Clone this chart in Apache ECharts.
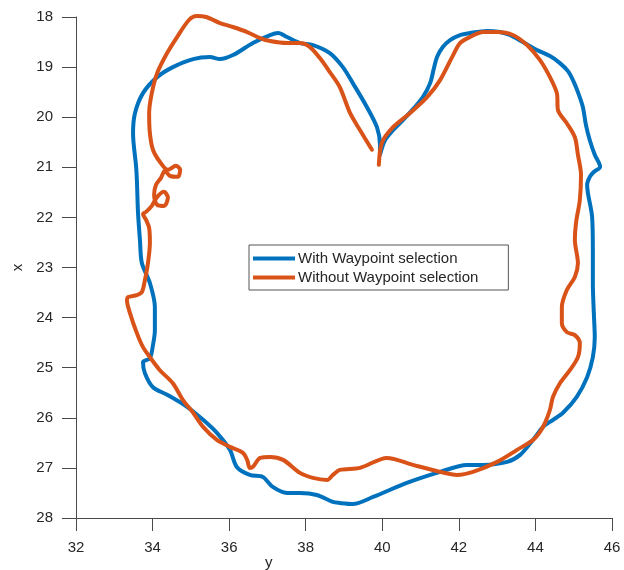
<!DOCTYPE html>
<html>
<head>
<meta charset="utf-8">
<script src="https://cdn.jsdelivr.net/npm/echarts@6/dist/echarts.min.js"></script>
<style>
html,body{margin:0;padding:0;background:#fff;}
#chart{width:624px;height:570px;}
</style>
</head>
<body>
<div id="chart"></div>
<script>
// Axis ticks
const xTicks = [32, 34, 36, 38, 40, 42, 44, 46];
const yTicks = [18, 19, 20, 21, 22, 23, 24, 25, 26, 27, 28];

// Series names
const seriesNames = ['With Waypoint selection', 'Without Waypoint selection'];

// With Waypoint selection: [y, x]
const withWaypoint = [
[39.94,20.75],[40.07,20.46],[40.28,20.26],[40.54,20.06],[40.85,19.80],[41.06,19.60],[41.25,19.32],[41.35,19.02],[41.43,18.80],[41.58,18.60],[41.77,18.46],[42.03,18.36],[42.29,18.32],[42.73,18.28],[43.07,18.30],[43.33,18.36],[43.67,18.50],[44.04,18.66],[44.38,18.78],[44.64,18.92],[44.85,19.08],[44.98,19.26],[45.11,19.50],[45.24,19.80],[45.32,20.16],[45.42,20.46],[45.55,20.75],[45.69,20.99],[45.53,21.09],[45.42,21.19],[45.35,21.35],[45.37,21.51],[45.48,21.99],[45.50,22.65],[45.50,23.31],[45.53,23.99],[45.55,24.39],[45.50,24.79],[45.35,25.19],[45.08,25.58],[44.72,25.90],[44.46,26.04],[44.20,26.18],[43.94,26.44],[43.60,26.74],[43.26,26.88],[42.63,26.94],[42.21,26.94],[41.51,27.08],[40.64,27.30],[39.76,27.58],[39.23,27.72],[38.89,27.70],[38.71,27.68],[38.29,27.54],[37.85,27.50],[37.51,27.50],[37.14,27.38],[36.88,27.18],[36.54,27.14],[36.20,26.98],[36.02,26.64],[35.68,26.30],[35.32,26.04],[34.90,25.78],[34.38,25.54],[34.01,25.39],[33.80,25.11],[33.75,24.89],[33.93,24.81],[34.01,24.55],[34.06,24.25],[34.06,23.79],[33.93,23.31],[33.72,22.91],[33.67,22.45],[33.62,21.91],[33.59,21.25],[33.57,20.99],[33.49,20.32],[33.54,19.92],[33.75,19.52],[34.12,19.20],[34.53,19.00],[35.06,18.84],[35.50,18.80],[35.76,18.84],[36.10,18.76],[36.62,18.52],[37.07,18.36],[37.28,18.32],[37.51,18.40],[37.85,18.52],[38.19,18.56],[38.63,18.72],[38.97,19.00],[39.23,19.32],[39.60,19.80],[39.86,20.20],[39.94,20.55],[39.94,20.75]
];

// Without Waypoint selection: [y, x]
const withoutWaypoint = [
[39.73,20.65],[39.42,20.26],[39.16,19.92],[38.89,19.40],[38.63,19.10],[38.37,18.82],[38.11,18.60],[37.85,18.52],[37.51,18.52],[37.07,18.48],[36.81,18.42],[36.47,18.30],[36.10,18.20],[35.76,18.12],[35.40,18.00],[35.15,17.98],[34.95,18.06],[34.64,18.40],[34.38,18.72],[34.12,19.12],[33.98,19.52],[33.91,19.92],[33.93,20.32],[34.01,20.65],[34.19,20.89],[34.40,21.05],[34.61,20.97],[34.72,21.05],[34.66,21.19],[34.45,21.17],[34.32,21.07],[34.22,21.21],[34.09,21.35],[34.04,21.55],[34.12,21.75],[34.30,21.77],[34.40,21.61],[34.30,21.49],[34.12,21.59],[33.98,21.77],[33.83,21.89],[33.75,21.93],[33.83,22.05],[33.91,22.21],[33.93,22.51],[33.88,22.91],[33.80,23.25],[33.72,23.49],[33.59,23.55],[33.36,23.59],[33.33,23.65],[33.41,23.91],[33.59,24.31],[33.75,24.59],[33.93,24.79],[34.19,25.05],[34.53,25.31],[34.79,25.64],[35.06,25.90],[35.32,26.18],[35.68,26.44],[36.02,26.58],[36.36,26.70],[36.47,26.84],[36.54,27.00],[36.62,26.98],[36.81,26.80],[37.07,26.78],[37.41,26.84],[37.85,27.10],[38.19,27.20],[38.56,27.24],[38.71,27.14],[38.89,27.04],[39.42,27.00],[40.12,26.80],[40.80,26.94],[41.51,27.08],[41.95,27.14],[42.37,27.08],[43.00,26.88],[43.52,26.64],[43.94,26.44],[44.12,26.28],[44.25,26.10],[44.38,25.84],[44.46,25.58],[44.64,25.31],[44.90,25.05],[45.11,24.79],[45.16,24.51],[45.03,24.35],[44.82,24.29],[44.69,24.11],[44.69,23.79],[44.82,23.45],[45.03,23.19],[45.11,22.91],[45.03,22.45],[45.06,22.11],[45.16,21.65],[45.19,21.15],[45.11,20.75],[45.03,20.40],[44.82,20.12],[44.59,19.86],[44.56,19.52],[44.38,19.20],[44.12,18.86],[43.78,18.56],[43.41,18.36],[43.00,18.30],[42.63,18.30],[42.29,18.40],[42.03,18.52],[41.85,18.76],[41.51,19.26],[41.17,19.60],[40.72,19.92],[40.28,20.20],[39.99,20.51],[39.91,20.95]
];

const FONT = 'Liberation Sans, Arial, Helvetica, sans-serif';
const TEXT = '#262626';
const AXIS = '#4a4a4a';

const chart = echarts.init(document.getElementById('chart'), null, {renderer: 'canvas'});
chart.setOption({
  animation: false,
  backgroundColor: '#fff',
  grid: {left: 76, right: 12, top: 17, bottom: 52, containLabel: false},
  xAxis: {
    type: 'value',
    min: xTicks[0], max: xTicks[xTicks.length - 1], interval: 2,
    axisLine: {show: true, onZero: false, lineStyle: {color: AXIS, width: 1}},
    axisTick: {show: true, inside: false, length: 13, lineStyle: {color: AXIS, width: 1}},
    axisLabel: {color: TEXT, fontSize: 15, fontFamily: FONT, margin: 22},
    splitLine: {show: false}
  },
  yAxis: {
    type: 'value',
    inverse: true,
    min: yTicks[0], max: yTicks[yTicks.length - 1], interval: 1,
    name: 'x', nameLocation: 'middle', nameGap: 51, nameRotate: 90,
    nameTextStyle: {color: TEXT, fontSize: 15, fontFamily: FONT},
    axisLine: {show: true, onZero: false, lineStyle: {color: AXIS, width: 1}},
    axisTick: {show: true, inside: false, length: 14, lineStyle: {color: AXIS, width: 1}},
    axisLabel: {color: TEXT, fontSize: 15, fontFamily: FONT, margin: 23},
    splitLine: {show: false}
  },
  graphic: [{
    type: 'text', left: 265, top: 555,
    style: {text: 'y', fill: TEXT, font: '15px ' + FONT}
  }],
  legend: {
    orient: 'vertical',
    left: 249, top: 245,
    padding: [6, 30, 5, 4],
    itemGap: 4,
    itemWidth: 42, itemHeight: 4,
    icon: 'rect',
    backgroundColor: '#fff',
    borderColor: '#555', borderWidth: 1,
    textStyle: {color: TEXT, fontSize: 15, fontFamily: FONT, padding: [0, 0, 0, -2]},
    data: seriesNames
  },
  series: [
    {
      name: seriesNames[0], type: 'line', data: withWaypoint,
      showSymbol: false, symbol: 'none', smooth: 0.3, clip: false,
      lineStyle: {color: '#0072BD', width: 4, cap: 'round', join: 'round'},
      itemStyle: {color: '#0072BD'}
    },
    {
      name: seriesNames[1], type: 'line', data: withoutWaypoint,
      showSymbol: false, symbol: 'none', smooth: 0.3, clip: false,
      lineStyle: {color: '#D95319', width: 4, cap: 'round', join: 'round'},
      itemStyle: {color: '#D95319'}
    }
  ]
});
</script>
</body>
</html>
